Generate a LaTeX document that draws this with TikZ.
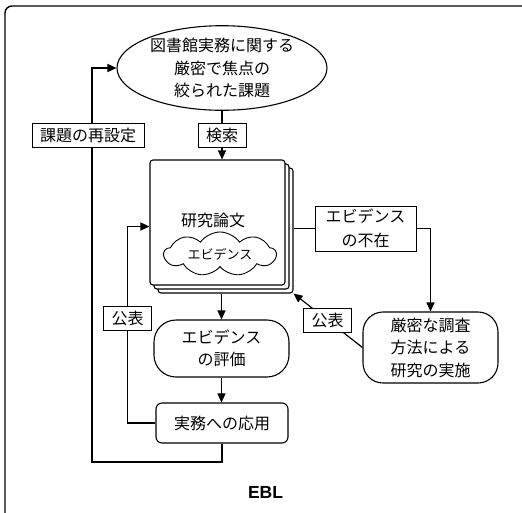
\documentclass[tikz,border=0pt]{standalone}
\usepackage{fontspec}
\setmainfont{Noto Sans CJK JP}
\newfontfamily\eblfont{Liberation Sans}
\usetikzlibrary{shapes.geometric,shapes.symbols,arrows.meta}
\begin{document}
\begin{tikzpicture}[x=1pt,y=-1pt,
  font=\fontsize{16}{22.5}\selectfont,
  line/.style={line width=1.2pt},
  arr/.style={line width=1.2pt,-{Triangle[length=9pt,width=8pt]}},
  lab/.style={draw,line width=0.7pt,fill=white,inner xsep=8pt,inner ysep=3pt,minimum height=24pt},
  paperbox/.style={draw,fill=white,line width=1.1pt,rounded corners=3pt,minimum width=135pt,minimum height=125pt},
  roundbox/.style={draw,fill=white,line width=1.1pt,align=center,inner sep=2pt}]
\useasboundingbox (0,0) rectangle (522,512);
\begin{scope}
  \clip (0,0) rectangle (522,512);
  \draw[line width=1.4pt,rounded corners=7pt] (5,6) rectangle (545,535);
\end{scope}

% nodes
\node[ellipse,draw,line width=1.1pt,fill=white,minimum width=210pt,minimum height=84pt,align=center,inner sep=0pt] (ell) at (222,68) {図書館実務に関する\\厳密で焦点の\\絞られた課題};
\node[paperbox] (p3) at (225.5,230.5) {};
\node[paperbox] (p2) at (221.5,226.5) {};
\node[paperbox] (paper) at (217.5,222.5) {};
\node (title) at (213,220) {研究論文};
\node[cloud,draw,line width=0.9pt,cloud puffs=9,cloud puff arc=110,aspect=3.1,minimum width=112pt,minimum height=34pt,inner sep=0pt,font=\fontsize{13}{15}\selectfont] (cl) at (220,254) {エビデンス};
\node[roundbox,rounded corners=20pt,minimum width=135pt,minimum height=71pt] (gen) at (430.5,347.5) {厳密な調査\\方法による\\研究の実施};
\node[roundbox,rounded corners=22pt,minimum width=135pt,minimum height=57pt] (hyo) at (221.5,348.5) {エビデンス\\の評価};
\node[roundbox,rounded corners=6pt,minimum width=132pt,minimum height=40pt] (jit) at (222,423) {実務への応用};
\node[lab,align=center,minimum width=101pt,minimum height=45pt,inner ysep=1pt,font=\fontsize{16}{24}\selectfont] (fuzai) at (365.5,228.5) {エビデンス\\の不在};
\coordinate (lowleft) at (92,462);
\coordinate (leftx) at (127.5,318);

% connectors
\draw[arr] (ell.south) -- (ell.south |- paper.north);
\draw[line] (p3.east |- fuzai.west) -- (fuzai.west);
\draw[arr] (fuzai.east) -| (gen.north);
\draw[arr] (gen.west) -- (p3.south east);
\draw[arr] (hyo.north |- p3.south) -- (hyo.north);
\draw[arr] (hyo.south) -- (hyo.south |- jit.north);
\draw[arr] (jit.west) -| (leftx) |- ([yshift=-4pt]paper.west);
\draw[arr] (jit.south) |- (lowleft) |- (ell.west);

% labels
\node[lab] (kensaku) at (222,135) {検索};
\node[lab] (saisettei) at (88,135) {課題の再設定};
\node[lab] (kohyo1) at (127.5,318) {公表};
\node[lab] (kohyo2) at (327.5,320.5) {公表};

\node[font=\eblfont\bfseries\fontsize{17.5}{19}\selectfont] (ebl) at (265.5,492) {EBL};
\end{tikzpicture}
\end{document}
